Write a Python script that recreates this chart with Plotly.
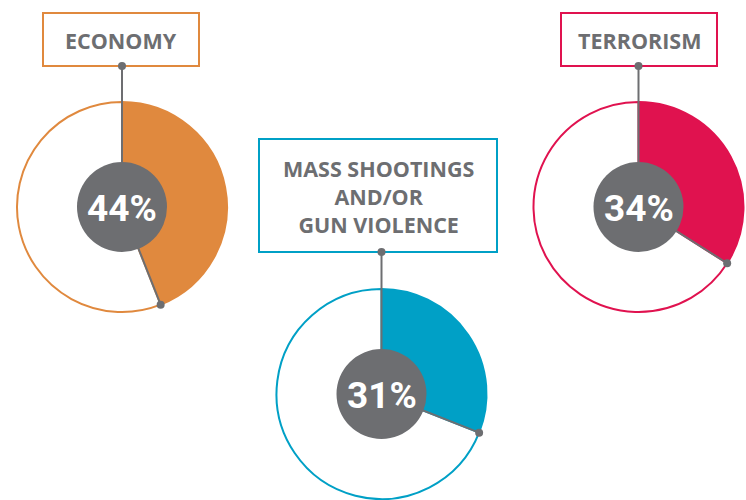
import math
import plotly.graph_objects as go

# ---- data ----
categories = ["ECONOMY", "MASS SHOOTINGS<br>AND/OR<br>GUN VIOLENCE", "TERRORISM"]
percent_values = [44, 31, 34]
percent_labels = ["44%", "31%", "34%"]

# ---- styles / layout ----
W, H = 746, 500
colors = ["#E0893E", "#00A0C6", "#E0124F"]
grey = "#6D6E71"
centers = [(122, 207), (381.5, 394), (638.5, 207)]
radius = 105
inner_r = 45
boxes = [(43, 13, 199, 66), (259, 139, 497, 252), (561, 13, 717, 66)]

fig = go.Figure()

# invisible trace to set up axes in pixel space
fig.add_trace(go.Scatter(x=[0, W], y=[0, H], mode="markers",
                         marker=dict(opacity=0), hoverinfo="skip", showlegend=False))

shapes = []
annotations = []
for cat, val, lab, col, (cx, cy), (bx0, by0, bx1, by1) in zip(
        categories, percent_values, percent_labels, colors, centers, boxes):
    fig.add_trace(go.Pie(
        values=[val, 100 - val],
        marker=dict(colors=[col, "white"], line=dict(color=col, width=2)),
        sort=False, direction="clockwise", rotation=0,
        textinfo="none", hoverinfo="skip", showlegend=False,
        domain=dict(x=[(cx - radius) / W, (cx + radius) / W],
                    y=[1 - (cy + radius) / H, 1 - (cy - radius) / H]),
    ))
    # label box
    shapes.append(dict(type="rect", xref="x", yref="y", x0=bx0, y0=by0, x1=bx1, y1=by1,
                       line=dict(color=col, width=2), fillcolor="white", layer="above"))
    annotations.append(dict(x=(bx0 + bx1) / 2, y=(by0 + by1) / 2 + 1, xref="x", yref="y",
                            text=cat, showarrow=False,
                            font=dict(family="Open Sans, Lato, sans-serif", size=21.5,
                                      color=grey, weight="bold")))
    # connector from box to center
    shapes.append(dict(type="line", xref="x", yref="y", x0=cx, y0=by1, x1=cx, y1=cy,
                       line=dict(color=grey, width=2), layer="above"))
    # line along end of wedge
    ang = math.radians(val / 100 * 360)
    ex = cx + radius * math.sin(ang)
    ey = cy - radius * math.cos(ang)
    shapes.append(dict(type="line", xref="x", yref="y", x0=cx, y0=cy, x1=ex, y1=ey,
                       line=dict(color=grey, width=2), layer="above"))
    # dots
    for (px, py) in [(cx, by1), (ex, ey)]:
        shapes.append(dict(type="circle", xref="x", yref="y", x0=px - 4, y0=py - 4,
                           x1=px + 4, y1=py + 4, fillcolor=grey,
                           line=dict(width=0), layer="above"))
    # dark center circle
    shapes.append(dict(type="circle", xref="x", yref="y", x0=cx - inner_r, y0=cy - inner_r,
                       x1=cx + inner_r, y1=cy + inner_r, fillcolor=grey,
                       line=dict(width=0), layer="above"))
    annotations.append(dict(x=cx, y=cy + 1, xref="x", yref="y", text=lab, showarrow=False,
                            font=dict(family="Roboto, sans-serif",
                                      size=37, color="white", weight="bold")))

fig.update_layout(
    width=W, height=H, margin=dict(l=0, r=0, t=0, b=0),
    paper_bgcolor="white", plot_bgcolor="white",
    xaxis=dict(range=[0, W], visible=False, fixedrange=True),
    yaxis=dict(range=[H, 0], visible=False, fixedrange=True),
    shapes=shapes, annotations=annotations,
)

fig.write_html("out.html")
